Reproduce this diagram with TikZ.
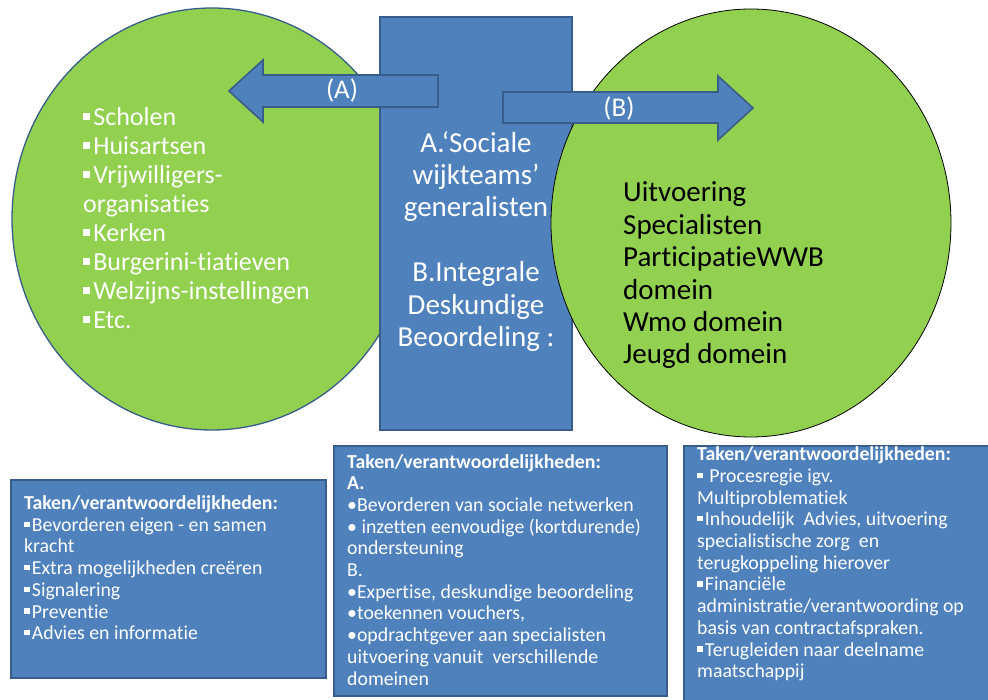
\documentclass[tikz,border=0pt]{standalone}
\usepackage{fontspec}
\setmainfont{Carlito}[Ligatures=NoCommon]
\usepackage{tikz}
\usetikzlibrary{positioning}
\usetikzlibrary{shapes.geometric}

\definecolor{groen}{HTML}{92D050}
\definecolor{blauw}{HTML}{4F81BD}
\definecolor{donkerblauw}{HTML}{385D8A}
\newcommand{\blok}{\raisebox{.22em}{\rule{.27em}{.27em}}\kern.12em}

\tikzset{
  cirkel/.style={ellipse, fill=groen, inner sep=0pt, outer sep=0pt},
  blauwvlak/.style={fill=blauw, draw=donkerblauw, line width=1.6pt},
  taakbox/.style={blauwvlak, anchor=north west, inner sep=0pt},
  lijst/.style={anchor=base west, align=left, inner sep=0pt},
  pijltekst/.style={text=white, inner sep=0pt, font=\fontsize{27}{29}\selectfont},
  groot/.style={font=\fontsize{26}{29}\selectfont},
  midden/.style={font=\fontsize{29}{32.4}\selectfont},
  klein/.style={font=\fontsize{19.8}{21.7}\selectfont},
}

\begin{document}
\begin{tikzpicture}[x=1pt,y=-1pt]
  \useasboundingbox (0,0) rectangle (988,700);
  \clip (0,0) rectangle (988,700);
  % circles and the column in between
  \node[cirkel, draw=donkerblauw, line width=1.3pt, minimum width=400, minimum height=422] (links) at (212,219) {};
  \node[blauwvlak, inner sep=0pt, minimum width=192, minimum height=413] (wijkteam) at (476,223.5) {};
  \node[cirkel, draw=black, line width=0.8pt, minimum width=400, minimum height=428] (rechts) at (751,223) {};
	% block arrows
  \filldraw[blauwvlak] (438,75) -- (263,75) -- (263,60) -- (229,91) -- (263,122) -- (263,107) -- (438,107) -- cycle;
  \filldraw[blauwvlak] (503,92) -- (718,92) -- (718,76) -- (753,108) -- (718,140) -- (718,123) -- (503,123) -- cycle;
  \node[pijltekst] (pijlA) at (342,91) {(A)};
  \node[pijltekst] (pijlB) at (619,109) {(B)};
	% texts (placed at the baseline of their last line)
  \node[lijst, groot, text=white] (partners) at (83,329)
    {\blok Scholen\\ \blok Huisartsen\\ \blok Vrijwilligers-\\ organisaties\\ \blok Kerken\\
     \blok Burgerini-tiatieven\\ \blok Welzijns-instellingen\\ \blok Etc.};
  \node[midden, text=white, align=center, anchor=base, inner sep=0pt] (teams) at (476,346.5)
    {A.‘Sociale\\ wijkteams’\\ generalisten\\ \\ B.Integrale\\ Deskundige\\ Beoordeling :};
  \node[lijst, midden] (uitvoering) at (623,364)
    {Uitvoering\\ Specialisten\\ ParticipatieWWB\\ domein\\ Wmo domein\\ Jeugd domein};
	% task boxes
  \node[taakbox, minimum width=315, minimum height=198] (taak1) at (10,479) {};
  \node[taakbox, minimum width=333, minimum height=250] (taak2) at (333,445) {};
  \node[taakbox, minimum width=312, minimum height=262] (taak3) at (683,445) {};
  \node[lijst, klein, text=white] (tekst1) at (24,639.7)
    {\textbf{Taken/verantwoordelijkheden:}\\ \blok Bevorderen eigen - en samen\\ kracht\\
     \blok Extra mogelijkheden creëren\\ \blok Signalering\\ \blok Preventie\\ \blok Advies en informatie};
  \node[lijst, klein, text=white] (tekst2) at (347,685)
    {\textbf{Taken/verantwoordelijkheden:}\\ \textbf{A.}\\ •Bevorderen van sociale netwerken\\
     • inzetten eenvoudige (kortdurende)\\ ondersteuning\\ B.\\ •Expertise, deskundige beoordeling\\
     •toekennen vouchers,\\ •opdrachtgever aan specialisten\\ uitvoering vanuit~ verschillende\\ domeinen};
  \node[lijst, klein, text=white] (tekst3) at (697,677.7)
    {\textbf{Taken/verantwoordelijkheden:}\\ \blok{} Procesregie igv.\\ Multiproblematiek\\
     \blok Inhoudelijk~ Advies, uitvoering\\ specialistische zorg~ en\\ terugkoppeling hierover\\
     \blok Financiële\\ administratie/verantwoording op\\ basis van contractafspraken.\\
     \blok Terugleiden naar deelname\\ maatschappij};
\end{tikzpicture}
\end{document}
